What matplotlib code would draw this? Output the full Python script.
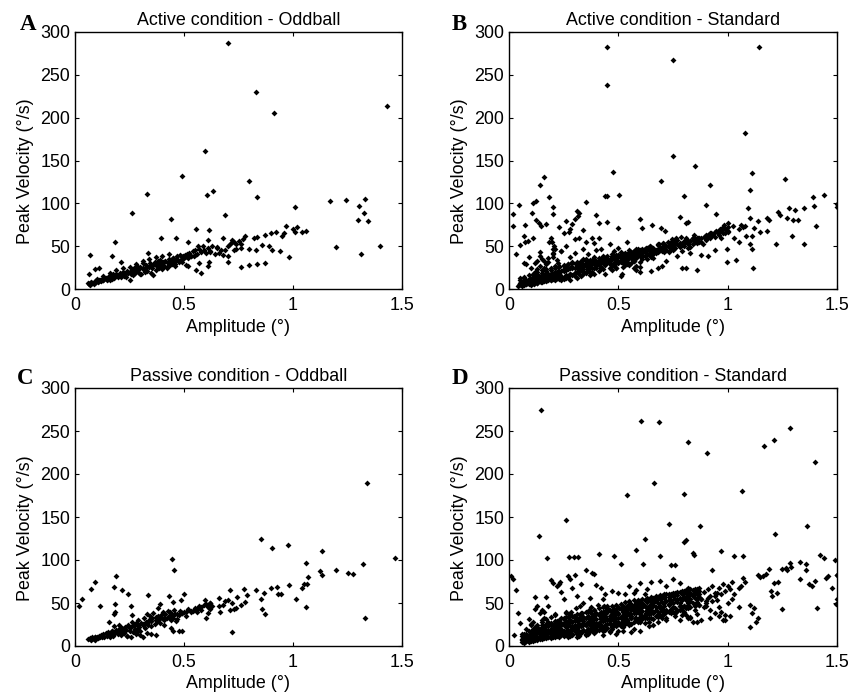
import matplotlib
matplotlib.use("Agg")
import matplotlib.pyplot as plt

# panel A, active oddball
a_x = [.70,.83,.915,1.43,.595,.49,.80,.33,.635,.605,.835,.26,.44,.69,1.01,1.17,1.245,1.33,1.305,1.325,
       1.30,1.345,1.195,1.40,1.31,.07,.065,.09,.11,.17,.185,.21,.395,.465,.555,.615,.52,.61,.98,.87,
       .835,.80,.76,.70,.58,.555,.57,.61,.615,.52,.51,1.06,1.04,1.02,1.0,1.01,.97,.96,.95,.94,
       .92,.90,.89,.905,.87,.86,.835,.82,.80,.83,.78,.77,.76,.74,.72,.73,.70,.68,.65,.62,
       .06,.065,.07,.075,.08,.085,.09,.095,.10,.105,.11,.115,.12,.125,.13,
       .14,.145,.15,.155,.16,.165,.17,.175,.18,.185,.19,.195,.20,.205,.21,
       .215,.22,.225,.23,.235,.24,.245,.25,.255,.26,.265,.27,.275,.28,.285,
       .29,.295,.30,.305,.31,.315,.32,.325,.33,.335,.34,.345,.35,.355,.36,
       .365,.37,.375,.38,.385,.39,.395,.40,.405,.41,.415,.42,.425,.43,.435,
       .44,.445,.45,.455,.46,.465,.47,.475,.48,.485,.49,.495,.50,.505,.51,
       .515,.52,.525,.53,.54,.545,.55,.56,.565,.57,.58,.585,.59,.60,.61,
       .62,.63,.64,.65,.66,.67,.68,.69,.70,.71,.72,.73,.74,.75,.76,
       .10,.13,.16,.19,.22,.25,.28,.31,.34,.37,.40,.43,.46,.49,.30,.32,.36,.38,.42,.45]
a_y = [287,230,205,214,161,132,126,111,114,110,107,89,82,86,96,103,104,105,97,89,
       80,79,49,50,41,40,17,23,25,39,55,32,59,59,70,69,55,57,37,30,
       29,28,26,31,19,22,30,27,32,27,28,68,66,72,70,66,74,65,62,44,
       67,65,50,46,63,51,61,60,47,45,62,58,52,47,55,45,38,60,48,43,
       7,6,5,8,7,6,9,8,10,8,9,11,9,12,10,
       13,10,12,15,11,14,12,17,13,15,18,14,16,19,14,
       17,20,15,18,14,21,19,11,17,22,16,24,19,21,27,
       20,23,26,18,30,22,25,28,21,42,26,30,19,24,28,
       32,22,27,30,25,34,28,23,31,27,33,26,30,35,28,
       33,29,36,31,27,35,38,32,40,34,37,39,36,40,38,
       41,36,42,39,44,38,45,41,50,47,43,50,46,42,48,
       44,50,41,49,42,46,40,45,50,53,57,55,52,56,48,
       12,15,19,22,24,26,29,33,35,37,39,41,29,31,17,20,16,33,25,36]
a_core_x = [.07,.09,.11,.13,.15,.17,.19,.21,.23,.25,.27,.29,.31,.33,.35,.37,.39,.41,.43,.45,.47,.49,.51,.53,.55]
a_core_y = [7,8,10,11,13,14,16,17,18,20,21,23,24,26,27,28,30,31,33,34,35,37,38,39,40]

# panel B, active standard
b_x = [.45,.45,.75,1.145,1.08,.75,.85,.475,1.11,.16,.14,.695,1.26,.92,1.10,.185,.44,.45,.505,.80,
       .35,.045,.11,.125,.02,.105,.2,.2,.9,.4,.02,.075,.125,.135,.145,.17,.23,.26,.32,.31,
       .315,.30,.29,.275,.25,.28,.34,.32,.45,.41,.5,.6,.61,.655,.695,.715,.78,.81,.82,.945,
       .03,.05,.07,.075,.085,.11,.2,.185,.35,.34,.38,.39,.41,.3,.09,.08,.07,.14,.05,.13,
       1.5,1.5,1.44,1.39,1.395,1.35,1.405,1.35,1.30,1.32,1.28,1.31,1.27,1.295,1.24,1.23,1.22,1.19,1.18,1.18,
       1.15,1.14,1.12,1.11,1.10,1.095,1.085,1.10,1.11,1.115,1.04,.995,.995,1.05,1.03,1.07,1.08,1.06,1.05,1.025,
       .86,.81,.79,.70,.72,.65,.60,.51,.515,.57,.58,.68,.75,.77,.83,.88,.91,.94,.97,.99,
       1.0,.98,.96,.93,.90,.87,.84,.82,.79,.76,.73,.71,.68,.66,.63,.60,.57,.55,.52,.49,
       1.0,.985,.965,.945,.925,.905,.885,.865,.845,.825,.805,.785,.765,.745,.725,.705,.685,.665,.645,.625,
       .605,.585,.565,.545,.525,.505,.485,.465,.445,.425,.405,.385,.365,.345,.325,.305,.285,.265,.245,.225,
       .04,.05,.055,.06,.065,.07,.075,.08,.085,.09,.095,.10,.105,.11,.115,.12,.125,.13,.135,.14,
       .145,.15,.155,.16,.165,.17,.175,.18,.185,.19,.195,.20,.205,.21,.215,.22,.225,.23,.235,.24,
       .045,.06,.07,.08,.09,.10,.11,.12,.13,.14,.15,.16,.17,.18,.19,.20,.21,.22,.23,.24,
       .25,.26,.27,.28,.29,.30,.31,.32,.33,.34,.35,.36,.37,.38,.39,.40,.41,.42,.43,.44,
       .25,.26,.27,.28,.29,.30,.31,.32,.33,.34,.35,.36,.37,.38,.39,.40,.41,.42,.43,.44,
       .46,.47,.48,.49,.50,.51,.52,.53,.54,.55,.56,.57,.58,.59,.60,.61,.62,.63,.64,.65,
       .46,.47,.48,.49,.50,.51,.52,.53,.54,.55,.56,.57,.58,.59,.60,.61,.62,.63,.64,.65,
       .66,.67,.68,.69,.70,.71,.72,.73,.74,.75,.76,.77,.78,.79,.80,.81,.82,.83,.84,.85,
       .10,.12,.14,.16,.18,.20,.22,.24,.195,.205,.19,.21,.20,.15,.14,.13,.12,.17,.16,.18,
       .20,.225,.24,.26,.28,.30,.32,.34,.36,.38,.40,.42,.44,.46,.48,.50,.52,.54,.56,.58]
b_y = [282,238,267,283,182,155,143,137,135,131,121,126,128,121,116,107,109,109,110,109,
       102,98,100,103,88,89,96,88,98,86,74,75,81,77,74,76,72,79,89,91,
       85,82,76,66,65,70,69,60,78,77,71,82,71,75,71,68,84,77,78,87,
       41,51,62,55,56,60,47,55,55,47,59,54,60,58,37,29,30,43,13,33,
       99,96,110,107,97,94,74,53,81,81,95,92,83,62,86,90,53,81,83,68,
       66,79,71,62,83,94,62,52,47,25,34,32,47,55,60,72,74,75,70,73,
       22,25,24,27,33,21,20,15,18,25,22,25,46,38,42,40,38,45,60,65,
       77,72,66,63,57,55,60,48,53,56,49,43,52,36,40,26,33,28,30,24,
       68,75,70,68,65,62,52,60,63,55,57,61,59,58,55,54,52,46,50,48,
       45,42,43,37,41,39,38,34,36,31,33,30,32,27,28,29,26,24,22,19,
       4,6,8,5,9,7,10,6,11,8,12,7,13,9,6,14,10,7,15,11,
       8,16,12,9,17,13,10,18,14,11,19,15,12,20,16,13,21,17,14,11,
       5,4,5,6,6,5,7,8,7,9,8,10,9,11,10,12,11,13,12,14,
       22,15,24,17,26,19,28,21,25,23,30,27,20,31,24,28,33,26,35,29,
       12,13,14,11,16,15,13,18,15,17,19,22,16,20,18,27,21,24,23,17,
       33,28,36,30,40,32,35,38,29,42,37,33,44,39,46,35,47,41,49,44,
       25,22,27,24,30,34,26,28,32,36,30,34,27,40,32,38,43,35,45,37,
       48,42,51,45,47,53,50,43,55,48,52,57,50,44,54,60,56,49,60,55,
       25,30,38,33,36,42,34,44,55,50,60,47,41,35,27,23,20,29,24,31,
       37,30,44,50,37,42,29,35,41,34,45,47,36,52,44,48,40,55,43,47]
b_core_x = [.06,.08,.10,.12,.14,.16,.18,.20,.22,.24,.26,.28,.30,.32,.34,.36,.38,.40,.42,.44,.46,.48,.50,.52,
            .54,.56,.58,.60,.62,.64,.66,.68,.70,.72,.74,.76,.78,.80,.82,.84,.86,.88,.90,.92,.94,.96,.98,1.0,
            .06,.08,.10,.12,.14,.16,.18,.20,.22,.24,.26,.28,.30,.32,.34,.36,.38,.40,.42,.44,.46,.48,.50,.52,
            .54,.56,.58,.60,.62,.64,.66,.68,.70,.72,.74,.76,.78,.80,.82,.84,.86,.88,.90,.92,.94,.96,.98,1.0,
            .07,.09,.11,.13,.15,.17,.19,.21,.23,.25,.27,.29,.31,.33,.35,.37,.39,.41,.43,.45,.47,.49,.51,.53,
            .55,.57,.59,.61,
            .05,.07,.09,.11,.13,.15,.17,.19,.21,.23,.25,.27,.29,.31,.33,.35,.37,.39,.41,.43,.45,.47,.49,.51,
            .53,.55,.57,.59,.61,.63,.65,.67,.69,.71,.73,.75,.77,.79,.81,.83,.85,.87,.89,.91,.93,.95,.97,.99,
            .05,.07,.09,.11,.13,.15,.17,.19,.21,.23,.25,.27,.29,.31,.33,.35,.37,.39,.41,.43,.45,.47,.49,.51,
            .53,.55,.57,.59,.61,.63,.65]
b_core_y = [8,10,11,13,14,16,17,18,20,21,22,24,24,26,28,28,30,31,33,33,35,36,37,38,
            40,40,42,43,44,45,47,47,49,50,52,52,54,55,56,57,60,60,63,65,66,68,70,72,
            6,7,8,9,10,11,12,13,14,15,16,17,19,20,21,23,24,25,26,28,29,30,31,33,
            34,36,36,38,39,41,41,43,44,46,47,48,49,50,52,53,54,55,58,60,61,63,65,67,
            9,11,14,16,19,21,22,24,26,27,29,31,20,33,35,26,37,29,39,31,41,34,43,36,
            45,38,47,40,
            7,9,10,12,13,15,16,17,19,20,21,23,24,25,26,27,29,30,31,32,34,35,36,37,
            38,39,41,42,43,45,46,46,48,49,50,51,53,54,55,56,58,59,61,63,64,66,68,70,
            11,14,16,18,20,22,23,25,27,27,28,29,30,31,32,33,34,35,36,37,38,39,40,41,
            42,43,44,46,47,48,49]

# panel C, passive oddball
c_x = [1.34,.855,.905,.975,1.135,1.47,1.06,.445,.455,1.32,1.125,1.195,1.25,1.275,1.135,1.07,1.05,1.065,1.04,.98,
       .90,.925,.93,.945,1.015,1.06,1.33,.72,.87,.86,.865,.855,.83,.775,.71,.79,.78,.76,.74,.73,
       .72,.71,.70,.69,.68,.745,.66,.66,.665,.62,.61,.60,.59,.62,.625,.61,.58,.56,.09,.075,
       .19,.18,.215,.245,.185,.185,.115,.03,.02,.335,.43,.50,.485,.45,.49,.39,.255,.26,.18,.155,
       .06,.07,.075,.08,.085,.09,.09,.095,.10,.105,.11,.115,.12,.125,.13,
       .135,.14,.145,.15,.155,.16,.165,.17,.175,.18,.185,.19,.195,.20,.205,
       .21,.215,.22,.225,.23,.235,.24,.245,.25,.255,.26,.265,.27,.275,.28,
       .285,.29,.295,.30,.305,.31,.315,.32,.325,.33,.335,.34,.345,.35,.355,
       .36,.365,.37,.375,.38,.385,.39,.395,.40,.405,.41,.415,.42,.425,.43,
       .435,.44,.445,.45,.455,.46,.465,.47,.475,.48,.49,.50,.51,.52,.53,
       .54,.55,.56,.57,.58,.595,.60,.61,.62,.63,.35,.37,.44,.45,.475,
       .17,.20,.23,.26,.29,.32,.30,.31,.33,.28,.24,.21,.35,.38,.41]
c_y = [190,125,114,117,110,102,97,101,88,95,87,88,85,84,82,80,72,72,67,71,
       68,69,60,61,55,45,33,16,37,43,62,55,65,66,65,59,51,48,44,43,
       50,42,54,52,48,57,46,56,40,43,38,33,48,50,46,46,45,40,74,66,
       81,69,65,60,49,40,46,55,46,59,58,60,53,51,18,49,46,36,37,28,
       8,9,7,10,8,11,7,9,10,9,12,10,13,11,14,
       10,15,12,16,13,11,14,17,12,23,15,19,14,20,16,
       13,21,17,15,22,19,12,24,18,11,23,16,25,20,27,
       19,30,22,17,27,24,33,21,28,37,25,30,35,23,32,
       38,26,34,29,44,31,27,36,32,40,30,37,33,41,35,
       39,30,36,33,42,37,29,31,36,41,38,40,35,43,39,
       41,44,43,46,42,53,49,45,50,46,14,13,21,17,18,
       18,25,20,28,17,26,13,11,15,14,12,21,29,35,24]
c_core_x = [.07,.09,.11,.13,.15,.17,.19,.21,.23,.25,.27,.29,.31,.33,.35,.37,.39,.41,.43,.45,.47,.49,.51,.53,.55]
c_core_y = [8,10,11,12,14,15,17,18,20,21,23,24,26,27,29,30,32,33,34,36,37,38,40,41,43]

# panel D, passive standard
d_x = [.145,.605,.685,.82,.905,1.285,1.21,1.165,1.40,1.065,.665,.80,.54,.26,.73,.875,1.365,.135,1.215,.62,
       .81,.80,.58,.84,.845,.97,1.03,1.07,.41,.48,.69,.615,.175,.275,.295,.315,.51,.74,.76,.93,
       1.42,1.44,1.49,1.33,1.36,1.285,1.25,1.265,1.27,1.29,1.36,1.33,1.37,1.385,1.40,1.45,1.46,1.475,1.50,1.50,
       1.50,1.495,1.41,1.25,1.14,1.15,1.16,1.175,1.10,1.12,1.13,1.19,1.20,1.205,1.225,1.23,1.21,1.11,1.14,1.10,
       1.05,1.08,1.07,1.05,1.06,1.03,1.02,1.01,.99,.96,.98,.94,.92,.90,.88,.86,.83,.81,.78,.76,
       .01,.02,.03,.06,.04,.025,.05,.08,.10,.09,.11,.12,.13,.15,.16,.17,.18,.19,.20,.21,
       .22,.23,.235,.24,.25,.27,.29,.30,.28,.33,.35,.38,.39,.40,.42,.44,.47,.50,.53,.55,
       .58,.60,.63,.65,.69,.72,.75,.78,.82,.70,.62,.57,.52,.43,.37,.34,.31,.26,.14,.12,
       .07,.08,.09,.10,.11,.12,.13,.14,.15,.16,.17,.18,.19,.20,.21,.22,.23,.24,.25,.26,
       .06,.07,.08,.09,.10,.11,.12,.13,.14,.15,.16,.17,.18,.19,.20,.21,.22,.23,.24,.25,
       .10,.11,.12,.13,.14,.15,.16,.17,.18,.19,.20,.21,.22,.23,.24,.25,.26,.27,.28,.29,
       .27,.28,.29,.30,.31,.32,.33,.34,.35,.36,.37,.38,.39,.40,.41,.42,.43,.44,.45,.46,
       .27,.28,.29,.30,.31,.32,.33,.34,.35,.36,.37,.38,.39,.40,.41,.42,.43,.44,.45,.46,
       .26,.275,.285,.295,.305,.315,.325,.335,.345,.355,.365,.375,.385,.395,.405,.415,.425,.435,.445,.455,
       .30,.32,.34,.36,.38,.40,.42,.44,.46,.48,.50,.52,.54,.56,.58,.60,.62,.64,.66,.68,
       .47,.48,.49,.50,.51,.52,.53,.54,.55,.56,.57,.58,.59,.60,.61,.62,.63,.64,.65,.66,
       .47,.48,.49,.50,.51,.52,.53,.54,.55,.56,.57,.58,.59,.60,.61,.62,.63,.64,.65,.66,
       .465,.475,.485,.495,.505,.515,.525,.535,.545,.555,.565,.575,.585,.595,.605,.615,.625,.635,.645,.655,
       .67,.68,.69,.70,.71,.72,.73,.74,.75,.76,.77,.78,.79,.80,.81,.82,.83,.84,.85,.86,
       .67,.68,.69,.70,.71,.72,.73,.74,.75,.76,.77,.78,.79,.80,.81,.82,.83,.84,.85,.86,
       .87,.88,.89,.90,.91,.92,.93,.94,.95,.96,.97,.98,.99,1.0,1.01,1.02,.87,.89,.91,.93,
       .95,.97,.99,1.0,.96,.94,.92,.90,.88,.86,.84,.82,.80,.78,.76,.74,.72,.70,.68,.66,
       .64,.62,.60,.58,.56,.54,.52,.50,.48,.46,.44,.42,.40,.38,.36,.34,.32,.30,.28,.26,
       .24,.22,.20,.18,.16,.14,.12,.10,.15,.19,.23,.27,.31,.35,.39,.43,.47,.51,.55,.59]
d_y = [275,262,260,237,225,254,240,233,214,180,189,177,176,147,142,140,139,128,130,124,
       123,121,112,108,106,110,105,105,107,105,105,95,102,104,104,104,95,94,94,88,
       106,102,100,98,95,97,89,91,88,92,88,78,72,70,76,79,81,67,83,82,
       55,49,44,43,82,80,81,84,22,44,28,90,64,58,62,75,73,38,32,48,
       45,75,79,68,70,60,55,35,36,45,30,38,33,52,30,28,33,36,42,38,
       81,78,65,14,38,13,27,20,25,31,28,57,46,42,40,57,46,77,73,37,
       70,72,75,63,55,81,68,83,78,72,88,85,84,71,68,60,64,62,60,70,
       65,73,66,74,76,70,78,73,68,58,60,62,45,55,56,50,58,40,10,15,
       5,6,7,6,8,7,9,8,10,9,11,10,12,11,13,12,14,13,15,14,
       8,9,11,13,15,17,12,19,14,21,16,23,18,25,20,27,22,29,24,31,
       16,20,22,25,18,28,22,31,26,34,24,36,29,20,33,27,38,16,30,23,
       14,17,13,18,15,12,16,19,14,20,17,22,15,18,24,21,13,19,26,16,
       24,28,22,30,33,26,36,29,25,39,31,34,42,27,37,32,40,35,44,29,
       34,37,40,35,44,30,47,38,33,27,42,45,30,36,48,28,33,46,38,43,
       21,23,25,27,29,24,31,22,33,26,18,35,30,16,38,28,36,41,24,34,
       40,34,43,37,27,45,32,39,47,35,42,30,46,37,50,33,44,28,48,40,
       22,30,14,26,33,18,28,36,25,32,20,39,30,17,35,27,41,23,38,31,
       36,42,29,38,44,35,40,31,48,37,45,33,42,50,35,47,38,44,52,41,
       42,36,47,32,50,40,53,38,45,55,42,50,36,47,57,44,52,60,48,55,
       52,28,44,36,57,33,48,41,60,35,54,30,45,38,62,50,34,58,42,61,
       60,55,63,50,66,58,70,62,54,68,60,72,64,70,66,75,48,45,56,52,
       62,40,30,50,35,58,42,47,55,37,28,33,40,47,38,52,30,43,35,50,
       32,46,38,30,26,42,22,33,25,18,30,24,20,28,14,26,30,22,12,18,
       16,20,24,28,33,38,43,26,30,18,14,11,10,13,16,18,20,23,26,28]
d_core_x = [.06,.08,.10,.12,.14,.16,.18,.20,.22,.24,.26,.28,.30,.32,.34,.36,.38,.40,.42,.44,.46,
            .48,.50,.52,.54,.56,.58,.60,.62,.64,.66,.68,.70,.72,.74,.76,.78,.80,.82,.84,.86,
            .06,.08,.10,.12,.14,.16,.18,.20,.22,.24,.26,.28,.30,.32,.34,.36,.38,.40,.42,.44,.46,
            .48,.50,.52,.54,.56,.58,.60,.62,.64,.66,.68,.70,.72,.74,.76,.78,.80,.82,.84,.86,
            .06,.08,.10,.12,.14,.16,.18,.20,.22,.24,.26,.28,.30,.32,.34,.36,.38,.40,.42,.44,.46,
            .48,.50,.52,.54,.56,.58,.60,.62,.64,.66,.68,.70,.72,.74,.76,.78,.80,.82,.84,.86,
            .07,.09,.11,.13,.15,.17,.19,.21,.23,.25,.27,.29,.31,.33,.35,.37,.39,.41,.43,.45,.47,
            .49,.51,.53,.55,.57,.59,.61,.63,.65,.67,.69,.71,.73,.75,.77,.79,.81,.83,.85,.87,
            .07,.09,.11,.13,.15,.17,.19,.21,.23,.25,.27,.29,.31,.33,.35,.37,.39,.41,.43,.45,.47,
            .49,.51,.53,.55,.57,.59,.61,.63,.65,.67,.69,.71,.73,.75,.77,.79,.81,.83,.85,.87,
            .07,.09,.11,.13,.15,.17,.19,.21,.23,.25,.27,.29,.31,.33,.35,.37,.39,.41,.43,.45,.47,
            .49,.51,.53,.55,.57,.59,.61,.63,.65,.67,.69,.71,.73,.75,.77,.79,.81,.83,.85,.87,
            .07,.09,.11,.13,.15,.17,.19,.21,.23,.25,.27,.29,.31,.33,.35,.37,.39,.41,.43,.45,.47,
            .49,.51,.53,.55,.57,.59,.61,.63,.65,.67,.69,.71,.73,.75,.77,.79,.81,.83,.85,.87]
d_core_y = [12,14,16,18,20,21,23,24,26,27,29,30,32,33,34,35,37,38,39,41,42,
            43,45,46,47,49,50,52,53,54,56,57,58,60,61,62,63,64,65,65,66,
            7,9,11,12,14,15,16,18,19,20,22,23,24,26,27,28,30,31,32,34,35,
            36,38,39,40,42,43,44,46,47,48,50,51,52,53,55,56,57,58,59,60,
            5,6,7,8,9,10,11,12,13,14,15,16,17,18,19,20,21,22,23,24,26,
            27,28,29,30,32,33,34,35,37,38,39,41,42,43,44,46,47,48,50,51,
            10,11,14,15,17,19,20,22,23,25,26,28,29,31,32,33,35,36,37,39,40,
            41,43,44,45,47,48,49,51,52,53,55,56,57,58,59,61,62,62,63,64,
            6,8,9,10,12,13,14,15,17,18,19,20,21,23,24,25,26,27,29,30,31,
            33,34,35,36,38,39,41,42,44,45,46,47,49,50,51,53,54,55,56,57,
            14,17,19,22,24,26,27,29,30,32,34,35,37,38,40,41,42,44,45,46,47,
            48,49,51,52,53,54,55,56,57,58,59,60,61,62,63,64,65,66,66,67,
            4,5,6,7,8,9,9,10,11,12,13,14,14,15,16,17,18,19,20,21,22,
            23,25,26,27,28,30,31,32,33,35,36,37,39,40,41,42,44,45,46,48]

titles = ["Active condition - Oddball", "Active condition - Standard",
          "Passive condition - Oddball", "Passive condition - Standard"]
letters = ["A", "B", "C", "D"]
xs = [a_x + a_core_x, b_x + b_core_x, c_x + c_core_x, d_x + d_core_x]
ys = [a_y + a_core_y, b_y + b_core_y, c_y + c_core_y, d_y + d_core_y]

W = 859
H = 694
# left, top, right, bottom of each panel in pixels
boxes = [(75, 32, 402, 289), (509, 32, 837, 289), (75, 388, 402, 646), (509, 388, 837, 646)]
letter_pos = [(20, 25), (452, 25), (17, 378), (452, 379)]
FS = 12.9

plt.rcParams['font.family'] = ['Liberation Sans', 'DejaVu Sans']
fig = plt.figure(figsize=(W / 100, H / 100), dpi=100)

for i in range(4):
    l, t, r, b = boxes[i]
    ax = fig.add_axes([l / W, 1 - b / H, (r - l) / W, (b - t) / H])
    ax.plot(xs[i], ys[i], 'D', color='black', ms=3.0, mew=0)
    ax.set_xlim(0, 1.5)
    ax.set_ylim(0, 300)
    ax.set_xticks([0, 0.5, 1, 1.5])
    ax.set_xticklabels(["0", "0.5", "1", "1.5"])
    ax.set_yticks([0, 50, 100, 150, 200, 250, 300])
    ax.tick_params(direction='in', top=True, right=True, length=3, width=0.8, labelsize=FS)
    ax.tick_params(axis='x', pad=6)
    ax.tick_params(axis='y', pad=3.5)
    ax.set_xlabel("Amplitude (°)", fontsize=FS, va='center')
    ax.xaxis.set_label_coords(0.5, -38 / (b - t))
    ax.set_ylabel("Peak Velocity (°/s)", fontsize=FS, va='center')
    ax.yaxis.set_label_coords(-49 / (r - l), 0.457)
    ax.set_title(titles[i], fontsize=FS, pad=5)
    for s in ax.spines.values():
        s.set_linewidth(1.0)
    fig.text(letter_pos[i][0] / W, 1 - letter_pos[i][1] / H, letters[i], family='Liberation Serif',
             fontweight='bold', fontsize=16.5, ha='left', va='center')

fig.savefig("out.png", dpi=100)
